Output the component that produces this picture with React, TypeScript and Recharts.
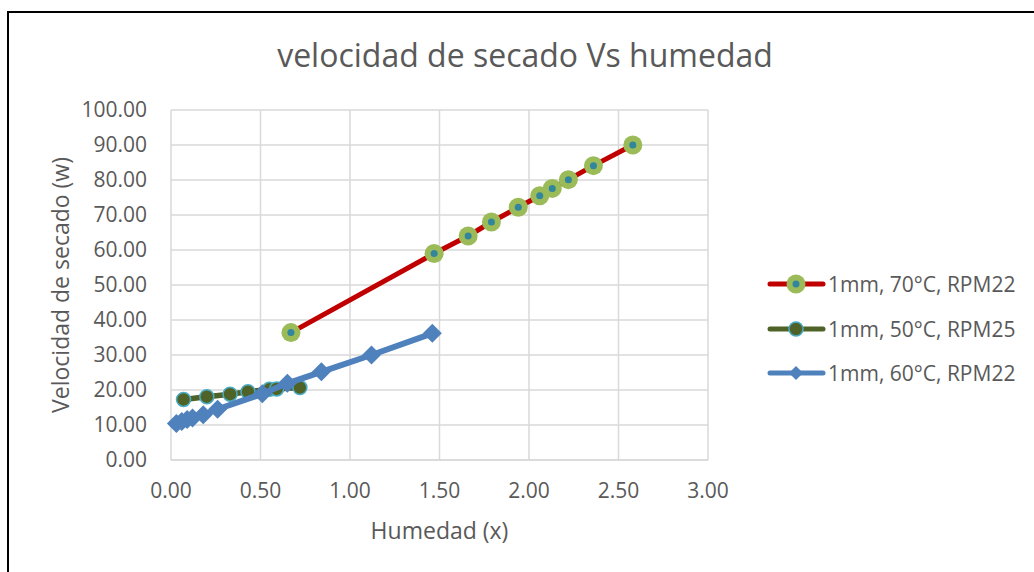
import React from "react";
import {
  CartesianGrid,
  Scatter,
  ScatterChart,
  XAxis,
  YAxis,
} from "recharts";

// Humedad (x) vs velocidad de secado (w) por ensayo
const HUM_70 = [0.67, 1.47, 1.66, 1.79, 1.94, 2.06, 2.13, 2.22, 2.36, 2.58];
const VEL_70 = [36.4, 59.0, 64.0, 68.0, 72.2, 75.5, 77.6, 80.1, 84.1, 90.0];

const HUM_50 = [0.07, 0.2, 0.33, 0.43, 0.55, 0.59, 0.72];
const VEL_50 = [17.3, 18.1, 18.8, 19.5, 20.2, 20.3, 20.7];

const HUM_60 = [0.03, 0.06, 0.09, 0.12, 0.18, 0.26, 0.51, 0.65, 0.84, 1.12, 1.46];
const VEL_60 = [10.4, 11.0, 11.6, 12.0, 12.9, 14.5, 18.9, 21.9, 25.2, 30.0, 36.2];

const X_TICKS = [0, 0.5, 1, 1.5, 2, 2.5, 3];
const Y_TICKS = [0, 10, 20, 30, 40, 50, 60, 70, 80, 90, 100];

const toPoints = (xs: number[], ys: number[]) =>
  xs.map((x, i) => ({ x, y: ys[i] }));

const TEXT = "#595959";
const GRID = "#d9d9d9";
const FONT = "'Open Sans', sans-serif";

const RedMarker = ({ cx, cy }: any) => (
  <g>
    <circle cx={cx} cy={cy} r={9.5} fill="#9bbb59" />
    <circle cx={cx} cy={cy} r={3.5} fill="#31859c" />
  </g>
);

const GreenMarker = ({ cx, cy }: any) => (
  <circle cx={cx} cy={cy} r={7} fill="#4f6228" stroke="#4bacc6" strokeWidth={1.5} />
);

const BlueMarker = ({ cx, cy }: any, s = 9.5) => (
  <polygon
    points={`${cx},${cy - s} ${cx + s},${cy} ${cx},${cy + s} ${cx - s},${cy}`}
    fill="#4f81bd"
  />
);

const SERIES = [
  { name: "1mm, 70°C, RPM22", data: toPoints(HUM_70, VEL_70), color: "#c00000", width: 5, marker: RedMarker },
  { name: "1mm, 50°C, RPM25", data: toPoints(HUM_50, VEL_50), color: "#4f6228", width: 5.5, marker: GreenMarker },
  { name: "1mm, 60°C, RPM22", data: toPoints(HUM_60, VEL_60), color: "#4f81bd", width: 6, marker: (p: any) => BlueMarker(p) },
];

const YTitle = ({ viewBox }: any) => {
  const cx = 60;
  const cy = viewBox.y + viewBox.height / 2;
  return (
    <text
      x={cx}
      y={cy}
      transform={`rotate(-90 ${cx} ${cy})`}
      textAnchor="middle"
      dominantBaseline="central"
      fill={TEXT}
      fontSize={23}
      fontFamily={FONT}
    >
      Velocidad de secado (w)
    </text>
  );
};

const XTitle = ({ viewBox }: any) => (
  <text
    x={viewBox.x + viewBox.width / 2}
    y={530}
    textAnchor="middle"
    dominantBaseline="central"
    fill={TEXT}
    fontSize={23}
    fontFamily={FONT}
  >
    Humedad (x)
  </text>
);

export default function App() {
  return (
    <div
      style={{
        position: "absolute",
        left: 0,
        top: 0,
        width: 1034,
        height: 572,
        overflow: "hidden",
        background: "#fff",
        fontFamily: FONT,
      }}
    >
      <div
        style={{
          position: "absolute",
          left: 7,
          top: 11,
          width: 1100,
          height: 640,
          border: "2px solid #000",
        }}
      />
      <div
        style={{
          position: "absolute",
          left: 0,
          width: 1050,
          top: 35,
          textAlign: "center",
          fontSize: 32,
          color: TEXT,
          lineHeight: "40px",
        }}
      >
        velocidad de secado Vs humedad
      </div>
      <div style={{ position: "absolute", left: 0, top: 0 }}>
        <ScatterChart
          width={1034}
          height={572}
          margin={{ top: 110, right: 326, bottom: 82, left: 71 }}
        >
          <CartesianGrid stroke={GRID} strokeWidth={1.5} />
          <XAxis
            type="number"
            dataKey="x"
            domain={[0, 3]}
            ticks={X_TICKS}
            tickFormatter={(v: number) => v.toFixed(2)}
            axisLine={{ stroke: GRID, strokeWidth: 1.5 }}
            tickLine={false}
            tickSize={0}
            tickMargin={23}
            tick={{ fill: TEXT, fontSize: 21, fontFamily: FONT }}
            label={{ content: XTitle }}
          />
          <YAxis
            type="number"
            dataKey="y"
            width={100}
            domain={[0, 100]}
            ticks={Y_TICKS}
            tickFormatter={(v: number) => v.toFixed(2)}
            axisLine={false}
            tickLine={false}
            tickSize={0}
            tickMargin={24}
            tick={{ fill: TEXT, fontSize: 21, fontFamily: FONT }}
            label={{ content: YTitle }}
          />
          {SERIES.map((s) => (
            <Scatter
              key={s.name}
              name={s.name}
              data={s.data}
              line={{ stroke: s.color, strokeWidth: s.width, strokeLinecap: "round", strokeLinejoin: "round" }}
              lineType="joint"
              shape={s.marker}
              isAnimationActive={false}
            />
          ))}
        </ScatterChart>
      </div>
      <div style={{ position: "absolute", left: 766, top: 262 }}>
        {SERIES.map((s, i) => (
          <div
            key={s.name}
            style={{ display: "flex", alignItems: "center", height: 44.5 }}
          >
            <svg width={62} height={44} style={{ display: "block" }}>
              <line x1={4} y1={22} x2={57} y2={22} stroke={s.color} strokeWidth={5} strokeLinecap="round" />
              {i === 0 && RedMarker({ cx: 30, cy: 22 })}
              {i === 1 && GreenMarker({ cx: 30, cy: 22 })}
              {i === 2 && BlueMarker({ cx: 30, cy: 22 }, 7)}
            </svg>
            <span style={{ fontSize: 21, color: TEXT, whiteSpace: "nowrap" }}>{s.name}</span>
          </div>
        ))}
      </div>
    </div>
  );
}
